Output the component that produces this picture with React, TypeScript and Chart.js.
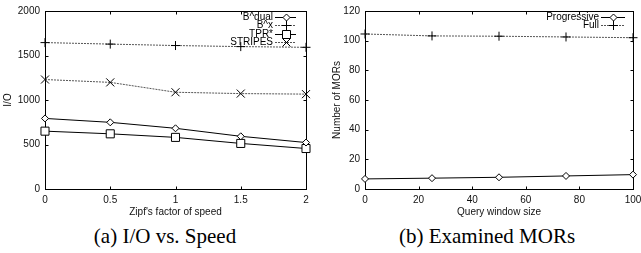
import React, { useEffect, useRef } from "react";
import { Chart, registerables } from "chart.js";
Chart.register(...registerables);

// ---- Data: (a) I/O vs. Speed ----
const speedFactors = [0, 0.5, 1, 1.5, 2];
const bDual = [793, 749, 682, 592, 522];
const bX = [1645, 1628, 1612, 1600, 1592];
const tprStar = [650, 620, 580, 512, 455];
const stripes = [1230, 1198, 1087, 1072, 1066];
const ioTicks = [0, 500, 1000, 1500, 2000];
const speedTicks = [0, 0.5, 1, 1.5, 2];

// ---- Data: (b) Examined MORs ----
const windowSizes = [0, 25, 50, 75, 100];
const progressive = [6.8, 7.3, 7.9, 8.8, 9.7];
const full = [104.5, 103.2, 103, 102.5, 102];
const morTicks = [0, 20, 40, 60, 80, 100, 120];
const windowTicks = [0, 20, 40, 60, 80, 100];

const FONT = "'Liberation Sans', Arial, sans-serif";

function drawMarker(ctx: CanvasRenderingContext2D, style: string, x: number, y: number) {
  ctx.beginPath();
  if (style === "diamond") {
    ctx.moveTo(x, y - 3.5); ctx.lineTo(x + 3.5, y); ctx.lineTo(x, y + 3.5); ctx.lineTo(x - 3.5, y); ctx.closePath();
    ctx.fillStyle = "#fff"; ctx.fill(); ctx.stroke();
  } else if (style === "plus") {
    ctx.moveTo(x - 4.5, y); ctx.lineTo(x + 4.5, y); ctx.moveTo(x, y - 4.5); ctx.lineTo(x, y + 4.5); ctx.stroke();
  } else if (style === "square") {
    ctx.rect(x - 4, y - 4, 8, 8); ctx.fillStyle = "#fff"; ctx.fill(); ctx.stroke();
  } else if (style === "x") {
    ctx.moveTo(x - 4, y - 4); ctx.lineTo(x + 4, y + 4); ctx.moveTo(x + 4, y - 4); ctx.lineTo(x - 4, y + 4); ctx.stroke();
  }
}

const framePlugin = {
  id: "frame",
  beforeDatasetsDraw(chart: any) {
    const { ctx, chartArea: a, scales } = chart;
    const L = Math.round(a.left) + 0.5, R = Math.round(a.right) + 0.5;
    const T = Math.round(a.top) + 0.5, B = Math.round(a.bottom) + 0.5;
    ctx.save();
    ctx.strokeStyle = "#000";
    ctx.lineWidth = 1;
    ctx.strokeRect(L, T, R - L, B - T);
    ctx.beginPath();
    scales.x.ticks.forEach((t: any) => {
      const px = Math.round(scales.x.getPixelForValue(t.value)) + 0.5;
      ctx.moveTo(px, B); ctx.lineTo(px, B - 3);
      ctx.moveTo(px, T); ctx.lineTo(px, T + 3);
    });
    scales.y.ticks.forEach((t: any) => {
      const py = Math.round(scales.y.getPixelForValue(t.value)) + 0.5;
      ctx.moveTo(L, py); ctx.lineTo(L + 3, py);
      ctx.moveTo(R, py); ctx.lineTo(R - 3, py);
    });
    ctx.stroke();
    // rotated y-axis title
    const yt = chart.options.plugins.yTitle;
    if (yt) {
      ctx.translate(yt.x, (a.top + a.bottom) / 2);
      ctx.rotate(-Math.PI / 2);
      ctx.font = `10px ${FONT}`;
      ctx.fillStyle = "#111";
      ctx.textAlign = "center";
      ctx.textBaseline = "middle";
      ctx.fillText(yt.text, 0, 0);
    }
    ctx.restore();
  },
  afterDatasetsDraw(chart: any) {
    const opts = chart.options.plugins.gnuLegend;
    if (!opts) return;
    const { ctx, chartArea: a } = chart;
    ctx.save();
    ctx.font = `10px ${FONT}`;
    ctx.textAlign = "right";
    ctx.textBaseline = "middle";
    chart.data.datasets.forEach((ds: any, i: number) => {
      const y = Math.round(a.top + opts.top + i * opts.step) + 0.5;
      ctx.fillStyle = "#000";
      ctx.fillText(ds.label, a.right - opts.textOff, y);
      ctx.strokeStyle = ds.borderColor;
      ctx.lineWidth = 1;
      ctx.setLineDash(ds.borderDash || []);
      ctx.beginPath();
      ctx.moveTo(a.right - opts.lineStart, y);
      ctx.lineTo(a.right - opts.lineEnd, y);
      ctx.stroke();
      ctx.setLineDash([]);
      ctx.strokeStyle = "#000";
      drawMarker(ctx, ds.marker, Math.round(a.right - (opts.lineStart + opts.lineEnd) / 2) + 0.5, y);
    });
    ctx.restore();
  },
};

const pointStyleMap: Record<string, any> = {
  diamond: { pointStyle: "rectRot", pointRadius: 3.5 },
  plus: { pointStyle: "cross", pointRadius: 4.5 },
  square: { pointStyle: "rect", pointRadius: 5.7 },
  x: { pointStyle: "crossRot", pointRadius: 5.7 },
};

function makeDataset(label: string, xs: number[], ys: number[], marker: string, color: string, dash: number[]) {
  return {
    label,
    marker,
    data: xs.map((x, i) => ({ x, y: ys[i] })),
    borderColor: color,
    borderWidth: 1,
    borderDash: dash,
    pointBorderColor: "#000",
    pointBackgroundColor: "#fff",
    pointBorderWidth: 1,
    ...pointStyleMap[marker],
    clip: false as any,
    tension: 0,
  };
}

function buildOptions(xMin: number, xMax: number, xTicks: number[], yMin: number, yMax: number, yTicks: number[], xTitle: string, yTitle: string, yTitleX: number, legend: any, pad: any) {
  const tickFont = { family: FONT, size: 10 };
  const fmt = (v: any) => String(v);
  return {
    animation: false as const,
    responsive: false,
    layout: { padding: pad, autoPadding: false },
    plugins: { legend: { display: false }, tooltip: { enabled: false }, gnuLegend: legend, yTitle: { text: yTitle, x: yTitleX } },
    scales: {
      x: {
        type: "linear" as const,
        min: xMin,
        max: xMax,
        afterBuildTicks: (s: any) => { s.ticks = xTicks.map((v) => ({ value: v })); },
        afterFit: (s: any) => { s.height = 33; },
        grid: { display: false, drawTicks: false },
        border: { display: false },
        ticks: { font: tickFont, color: "#111", padding: 5, maxRotation: 0, autoSkip: false, callback: fmt },
        title: { display: true, text: xTitle, font: tickFont, color: "#111", padding: { top: 0, bottom: 4 } },
      },
      y: {
        type: "linear" as const,
        min: yMin,
        max: yMax,
        afterBuildTicks: (s: any) => { s.ticks = yTicks.map((v) => ({ value: v })); },
        afterFit: (s: any) => { s.width = 45; },
        grid: { display: false, drawTicks: false },
        border: { display: false },
        ticks: { font: tickFont, color: "#111", padding: 5, autoSkip: false, callback: fmt },
        title: { display: false },
      },
    },
  };
}

function ChartCanvas({ config, width, height, left }: any) {
  const ref = useRef<HTMLCanvasElement>(null);
  useEffect(() => {
    const chart = new Chart(ref.current!, config);
    return () => chart.destroy();
  }, []);
  return (
    <canvas
      ref={ref}
      width={width}
      height={height}
      style={{ position: "absolute", left, top: 0, width, height }}
    />
  );
}

const captionStyle: React.CSSProperties = {
  position: "absolute",
  top: 224,
  textAlign: "center",
  fontFamily: "'Liberation Serif', 'Times New Roman', serif",
  fontSize: 21,
  lineHeight: "24px",
  color: "#000",
  whiteSpace: "nowrap",
};

export default function App() {
  const configA = {
    type: "line" as const,
    data: {
      datasets: [
        makeDataset("B^dual", speedFactors, bDual, "diamond", "#000", []),
        makeDataset("B^x", speedFactors, bX, "plus", "#555", [2, 1]),
        makeDataset("TPR*", speedFactors, tprStar, "square", "#000", []),
        makeDataset("STRIPES", speedFactors, stripes, "x", "#555", [2, 1]),
      ],
    },
    options: buildOptions(0, 2, speedTicks, 0, 2000, ioTicks, "Zipf's factor of speed", "I/O", 8,
      { top: 6, step: 8.4, textOff: 33, lineStart: 31, lineEnd: 10 },
      { left: 0, right: 14, top: 10, bottom: 0 }),
    plugins: [framePlugin],
  };
  const configB = {
    type: "line" as const,
    data: {
      datasets: [
        makeDataset("Progressive", windowSizes, progressive, "diamond", "#000", []),
        makeDataset("Full", windowSizes, full, "plus", "#555", [2, 1]),
      ],
    },
    options: buildOptions(0, 100, windowTicks, 0, 120, morTicks, "Query window size", "Number of MORs", 17.5,
      { top: 6, step: 8.3, textOff: 34, lineStart: 32, lineEnd: 8 },
      { left: 0, right: 27, top: 9, bottom: 0 }),
    plugins: [framePlugin],
  };
  return (
    <div style={{ position: "fixed", left: 0, top: 0, width: 641, height: 253, overflow: "hidden", background: "#fff" }}>
      <ChartCanvas config={configA} width={320} height={222} left={0} />
      <ChartCanvas config={configB} width={340} height={222} left={320} />
      <div style={{ ...captionStyle, left: 0, width: 330 }}>(a) I/O vs. Speed</div>
      <div style={{ ...captionStyle, left: 320, width: 334 }}>(b) Examined MORs</div>
    </div>
  );
}
